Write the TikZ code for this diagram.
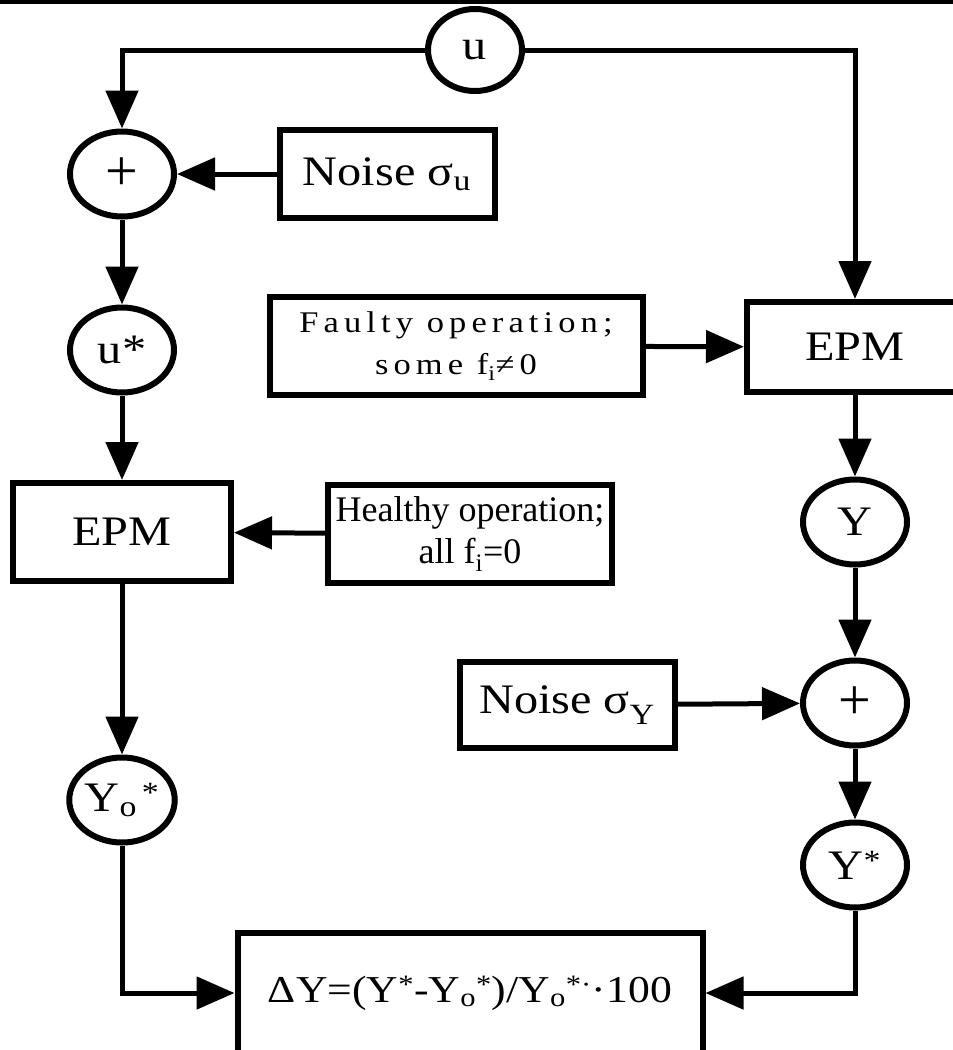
\documentclass[tikz,border=0pt]{standalone}
\usepackage{fontspec}
\setmainfont{Liberation Serif}[FakeStretch=1.15]
\newfontfamily\plainfont{Liberation Serif}
\newfontfamily\widefont{Liberation Serif}[FakeStretch=1.15,LetterSpace=17]
\usetikzlibrary{arrows.meta,shapes.geometric}

\begin{document}
\begin{tikzpicture}[x=1pt, y=-1pt, line width=5pt, ->, >={Triangle[length=38pt,width=32pt]},
  oval/.style = {draw, ellipse, line width=6pt, inner sep=0pt, minimum width=104pt, minimum height=85pt},
  block/.style = {draw, rectangle, line width=6pt, inner sep=0pt, align=center},
  font=\fontsize{42}{46}\selectfont]

\useasboundingbox (0,0) rectangle (953,1050);
\draw[-, line width=4pt] (0,2) -- (953,2);

% left branch
\node[oval, minimum width=94pt, minimum height=82pt] (u) at (475,50) {u};
\node[oval, font=\fontsize{58}{60}\selectfont\plainfont] (sum1) at (122,174) {+};
\node[block, minimum width=215pt, minimum height=88pt] (noiseu) at (387,174) {Noise σ\textsubscript{u}};
\node[oval] (ustar) at (122,350) {u*};
\node[block, minimum width=218pt, minimum height=98pt] (epm1) at (122,532) {EPM};
\node[block, minimum width=284pt, minimum height=98pt, font=\fontsize{36}{42}\selectfont\plainfont] (healthy) at (470,534) {Healthy operation;\\all f\textsubscript{i}=0};
\node[oval] (yo) at (122,800) {Y\textsubscript{o}\textsuperscript{\,*}};

% right branch
\node[block, minimum width=216pt, minimum height=90pt] (epm2) at (855,347) {EPM};
\node[block, minimum width=373pt, minimum height=98pt, font=\fontsize{30}{42}\selectfont\widefont] (faulty) at (456,346) {Faulty operation;\\some f\textsubscript{i}≠0};
\node[oval] (y) at (855,522) {Y};
\node[oval, font=\fontsize{58}{60}\selectfont\plainfont] (sum2) at (855,703) {+};
\node[block, minimum width=215pt, minimum height=86pt] (noisey) at (567,705) {Noise σ\textsubscript{Y}};
\node[oval] (ystar) at (855,865) {Y\textsuperscript{*}};

% result
\node[block, minimum width=465pt, minimum height=120pt, font=\fontsize{38}{42}\selectfont] (res) at (470,993) {ΔY=(Y\textsuperscript{*}-Y\textsubscript{o}\textsuperscript{*})/Y\textsubscript{o}\textsuperscript{*·}·100};

\draw (u) -| (sum1);
\draw (u) -| (epm2);
\path (noiseu) edge (sum1);
\path (sum1) edge (ustar);
\path (ustar) edge (epm1);
\path (healthy) edge (epm1);
\path (epm1) edge (yo);
\draw (yo) |- (res);

\path (faulty) edge (epm2);
\path (epm2) edge (y);
\path (y) edge (sum2);
\path (noisey) edge (sum2);
\path (sum2) edge (ystar);
\draw (ystar) |- (res);

\end{tikzpicture}
\end{document}
